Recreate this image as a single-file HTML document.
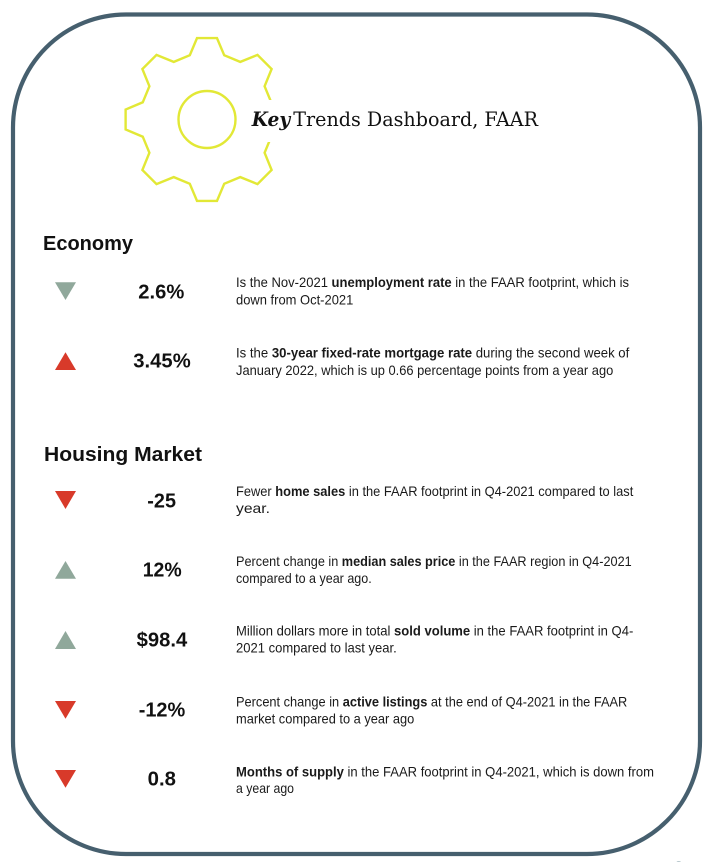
<!DOCTYPE html>
<html>
<head>
<meta charset="utf-8">
<style>
html,body{margin:0;padding:0;background:#fff;}
svg{display:block;}
.b{font-family:"Liberation Sans",Arial,sans-serif;font-size:14px;fill:#1a1a1a;}
.bb{font-weight:bold;}
.h{font-family:"Liberation Sans",Arial,sans-serif;font-size:20px;font-weight:bold;fill:#111;}
.v{font-family:"Liberation Sans",Arial,sans-serif;font-size:20px;font-weight:bold;fill:#111;}
.t{font-family:"DejaVu Serif","Liberation Serif",serif;font-size:19.5px;fill:#111;}
</style>
</head>
<body>
<svg width="715" height="862" viewBox="0 0 715 862" xmlns="http://www.w3.org/2000/svg">
<rect x="0" y="0" width="715" height="862" fill="#fff"/>
<!-- border -->
<rect x="13" y="14.5" width="687" height="839.5" rx="113" ry="113" fill="none" stroke="#465f6e" stroke-width="4.2"/>
<!-- gear -->
<polygon fill="none" stroke="#e2e836" stroke-width="2.4" stroke-linejoin="miter" points="189.79,55.26 197.01,38.11 216.99,38.11 224.21,55.26 240.25,61.91 257.49,54.88 271.62,69.01 264.59,86.25 271.24,102.29 288.39,109.51 288.39,129.49 271.24,136.71 264.59,152.75 271.62,169.99 257.49,184.12 240.25,177.09 224.21,183.74 216.99,200.89 197.01,200.89 189.79,183.74 173.75,177.09 156.51,184.12 142.38,169.99 149.41,152.75 142.76,136.71 125.61,129.49 125.61,109.51 142.76,102.29 149.41,86.25 142.38,69.01 156.51,54.88 173.75,61.91"/>
<circle cx="207" cy="119.5" r="28.5" fill="none" stroke="#e2e836" stroke-width="2.4"/>
<rect x="248" y="100" width="300" height="42" fill="#fff"/>
<!-- title -->
<text class="t" x="251.7" y="126" textLength="38.5" lengthAdjust="spacingAndGlyphs" font-weight="bold" font-style="italic">Key</text>
<text class="t" x="293.3" y="126" textLength="244.7" lengthAdjust="spacingAndGlyphs">Trends Dashboard, FAAR</text>

<!-- headings -->
<text class="h" x="43" y="250" textLength="90" lengthAdjust="spacingAndGlyphs">Economy</text>
<text class="h" x="44" y="461" textLength="158" lengthAdjust="spacingAndGlyphs">Housing Market</text>

<!-- arrows -->
<polygon points="55,282.3 76,282.3 65.5,300" fill="#90a89b"/>
<polygon points="55,370 76,370 65.5,352.3" fill="#d83a2a"/>
<polygon points="55,491 76,491 65.5,509" fill="#d83a2a"/>
<polygon points="55,578.7 76,578.7 65.5,561" fill="#90a89b"/>
<polygon points="55,649 76,649 65.5,631" fill="#90a89b"/>
<polygon points="55,701 76,701 65.5,718.7" fill="#d83a2a"/>
<polygon points="55,770 76,770 65.5,787.7" fill="#d83a2a"/>

<!-- values -->
<text class="v" x="138.3" y="298.3" textLength="46" lengthAdjust="spacingAndGlyphs">2.6%</text>
<text class="v" x="133.3" y="367.7" textLength="57.4" lengthAdjust="spacingAndGlyphs">3.45%</text>
<text class="v" x="147.3" y="507.3" textLength="28.7" lengthAdjust="spacingAndGlyphs">-25</text>
<text class="v" x="142.7" y="576.7" textLength="39" lengthAdjust="spacingAndGlyphs">12%</text>
<text class="v" x="136.7" y="646.7" textLength="50.6" lengthAdjust="spacingAndGlyphs">$98.4</text>
<text class="v" x="138.7" y="716.7" textLength="46.6" lengthAdjust="spacingAndGlyphs">-12%</text>
<text class="v" x="147.7" y="785.7" textLength="28.3" lengthAdjust="spacingAndGlyphs">0.8</text>

<!-- descriptions -->
<text class="b" x="236" y="287" textLength="393" lengthAdjust="spacingAndGlyphs">Is the Nov-2021 <tspan class="bb">unemployment rate</tspan> in the FAAR footprint, which is</text>
<text class="b" x="236" y="304.5" textLength="117.3" lengthAdjust="spacingAndGlyphs">down from Oct-2021</text>

<text class="b" x="236" y="357.5" textLength="393.3" lengthAdjust="spacingAndGlyphs">Is the <tspan class="bb">30-year fixed-rate mortgage rate</tspan> during the second week of</text>
<text class="b" x="236" y="375" textLength="377.3" lengthAdjust="spacingAndGlyphs">January 2022, which is up 0.66 percentage points from a year ago</text>

<text class="b" x="236" y="496" textLength="397.3" lengthAdjust="spacingAndGlyphs">Fewer <tspan class="bb">home sales</tspan> in the FAAR footprint in Q4-2021 compared to last</text>
<text class="b" x="236" y="513" textLength="34" lengthAdjust="spacingAndGlyphs">year.</text>

<text class="b" x="236" y="566" textLength="395.7" lengthAdjust="spacingAndGlyphs">Percent change in <tspan class="bb">median sales price</tspan> in the FAAR region in Q4-2021</text>
<text class="b" x="236" y="583" textLength="135.7" lengthAdjust="spacingAndGlyphs">compared to a year ago.</text>

<text class="b" x="236" y="635.5" textLength="397.3" lengthAdjust="spacingAndGlyphs">Million dollars more in total <tspan class="bb">sold volume</tspan> in the FAAR footprint in Q4-</text>
<text class="b" x="236" y="652.5" textLength="160.7" lengthAdjust="spacingAndGlyphs">2021 compared to last year.</text>

<text class="b" x="236" y="706.5" textLength="391.3" lengthAdjust="spacingAndGlyphs">Percent change in <tspan class="bb">active listings</tspan> at the end of Q4-2021 in the FAAR</text>
<text class="b" x="236" y="723.5" textLength="178.3" lengthAdjust="spacingAndGlyphs">market compared to a year ago</text>

<text class="b" x="236" y="776.5" textLength="418" lengthAdjust="spacingAndGlyphs"><tspan class="bb">Months of supply</tspan> in the FAAR footprint in Q4-2021, which is down from</text>
<text class="b" x="236" y="793" textLength="58" lengthAdjust="spacingAndGlyphs">a year ago</text>

<!-- page number (cut off) -->
<text x="674" y="873" font-family="Liberation Sans,sans-serif" font-size="17" fill="#6f8f99">3</text>
</svg>
</body>
</html>
